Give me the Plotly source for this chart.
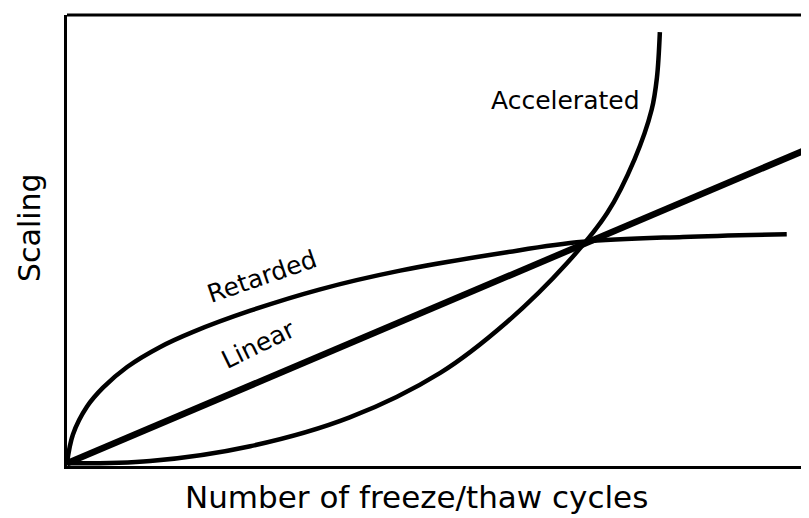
import plotly.graph_objects as go

# curve data (arbitrary units, x: cycles 0-100, y: scaling 0-100)
linear_x = [0, 99.5]
linear_y = [0.4, 70]

retarded_x = [0, 0.8, 2.7, 4.85, 8.1, 12.5, 17, 24.7, 34, 44.9, 59.3, 69.5, 83, 97]
retarded_y = [0.4, 6.8, 13.0, 17.2, 21.8, 26.2, 29.6, 34.3, 39, 43.2, 47.3, 49.6, 50.7, 51.3]

accel_x = [0, 11.2, 24.7, 38.1, 50.3, 59.3, 67.4, 72.8, 76.5, 78.8, 79.5, 79.9]
accel_y = [0.4, 0.9, 4.2, 10.6, 20.5, 31.8, 44.9, 56, 68, 79, 86, 96.2]

font = "DejaVu Sans"

fig = go.Figure()
fig.add_trace(go.Scatter(x=retarded_x, y=retarded_y, mode="lines",
                         line=dict(color="black", width=4.5, shape="spline", smoothing=1)))
fig.add_trace(go.Scatter(x=accel_x, y=accel_y, mode="lines",
                         line=dict(color="black", width=4.5, shape="spline", smoothing=1)))
fig.add_trace(go.Scatter(x=linear_x, y=linear_y, mode="lines",
                         line=dict(color="black", width=6.5)))

# labels, positions in page pixels of the target picture
labels = [
    dict(text="Accelerated", x=565, y=100, angle=0, size=25),
    dict(text="Retarded", x=262, y=276, angle=-19, size=25),
    dict(text="Linear", x=258, y=344, angle=-26, size=25),
    dict(text="Number of freeze/thaw cycles", x=416, y=497, angle=0, size=31),
    dict(text="Scaling", x=29, y=228, angle=-90, size=30),
]
for a in labels:
    fig.add_annotation(text=a["text"], xref="paper", yref="paper",
                       x=(a["x"] - 67) / 742, y=(466 - a["y"]) / 451,
                       xanchor="center", yanchor="middle",
                       showarrow=False, textangle=a["angle"],
                       font=dict(family=font, size=a["size"], color="black"))

fig.add_shape(type="line", xref="paper", yref="paper", x0=0, x1=1, y0=1, y1=1,
              line=dict(color="black", width=3))

fig.update_layout(
    width=801, height=510,
    margin=dict(l=59, r=0, t=7, b=52),
    paper_bgcolor="white", plot_bgcolor="white",
    showlegend=False,
    font=dict(family=font, color="black"),
    xaxis=dict(range=[0, 100], showgrid=False, zeroline=False, showticklabels=False,
               ticks="", showline=True, linecolor="black", linewidth=3),
    yaxis=dict(range=[-0.2, 100], showgrid=False, zeroline=False, showticklabels=False,
               ticks="", showline=True, linecolor="black", linewidth=3),
)

fig.write_html("out.html")
